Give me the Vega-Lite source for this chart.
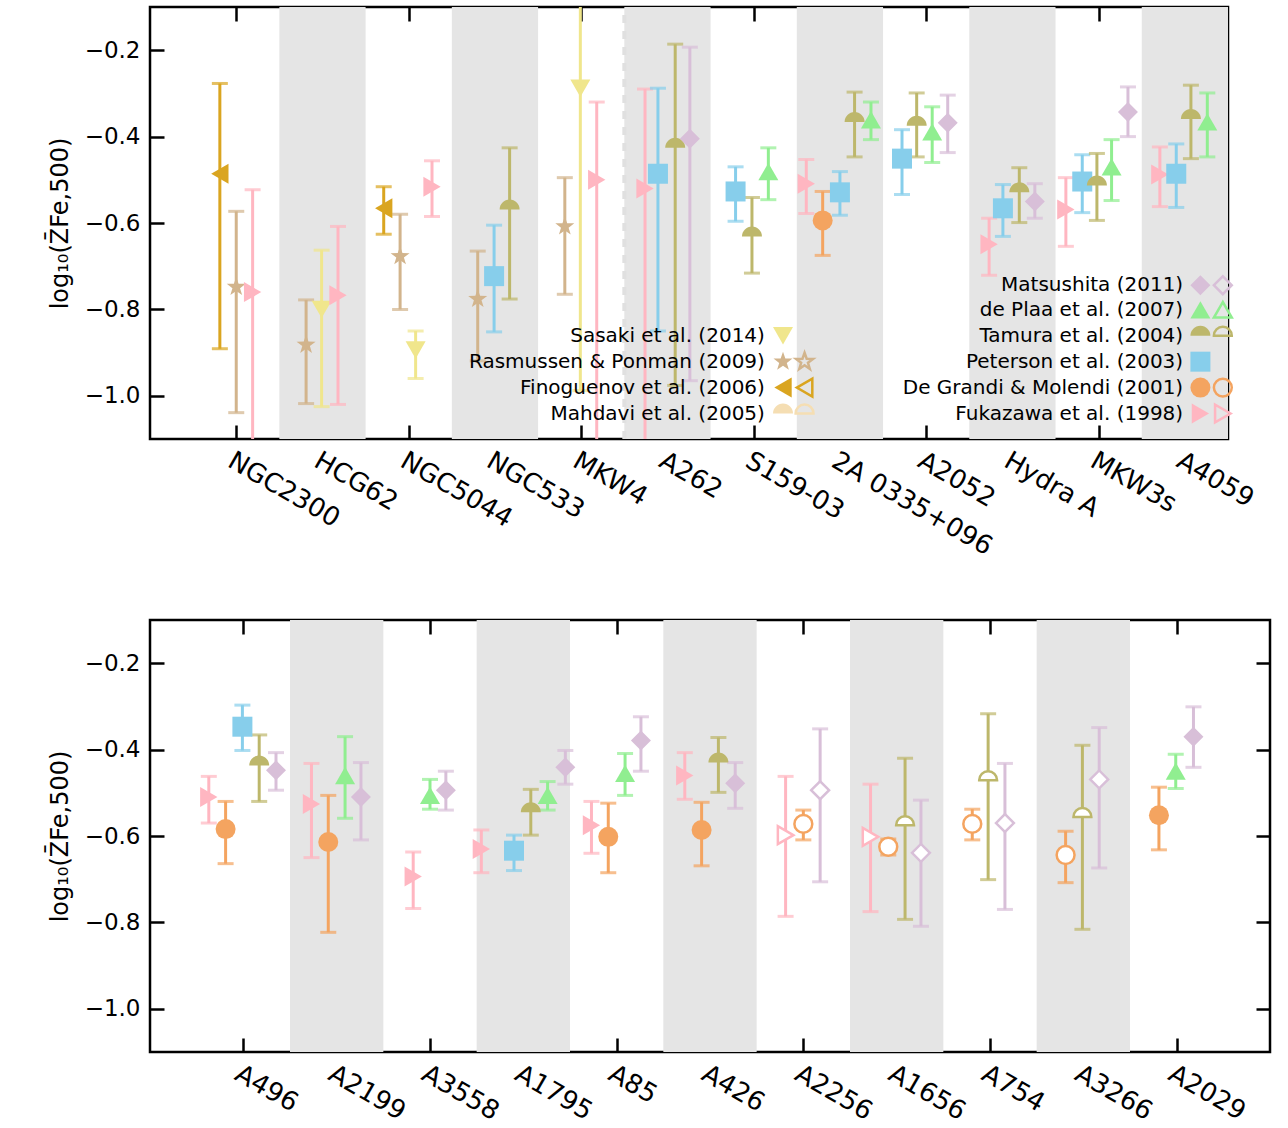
{
"$schema":"https://vega.github.io/schema/vega-lite/v6.json",
"padding":{"left":46,"top":3,"right":5,"bottom":0},
"config":{"view":{"stroke":"black","strokeWidth":2.5},"font":"DejaVu Sans","axis":{"labelFont":"DejaVu Sans","titleFont":"DejaVu Sans","labelColor":"black","titleColor":"black","labelOverlap":false,"labelLimit":0,"titleFontWeight":"normal"}},
"spacing":56,
"datasets":{
"top":[
{"s":"Finoguenov","x":0.31,"y":-0.486,"lo":-0.891,"hi":-0.277,"o":false},
{"s":"Rasmussen","x":0.50,"y":-0.748,"lo":-1.039,"hi":-0.573,"o":false},
{"s":"Fukazawa","x":0.69,"y":-0.76,"lo":-1.3,"hi":-0.523,"o":false},
{"s":"Rasmussen","x":1.31,"y":-0.882,"lo":-1.018,"hi":-0.778,"o":false},
{"s":"Sasaki","x":1.49,"y":-0.80,"lo":-1.025,"hi":-0.663,"o":false},
{"s":"Fukazawa","x":1.68,"y":-0.767,"lo":-1.02,"hi":-0.608,"o":false},
{"s":"Finoguenov","x":2.21,"y":-0.566,"lo":-0.626,"hi":-0.516,"o":false},
{"s":"Rasmussen","x":2.40,"y":-0.677,"lo":-0.80,"hi":-0.58,"o":false},
{"s":"Sasaki","x":2.58,"y":-0.894,"lo":-0.96,"hi":-0.85,"o":false},
{"s":"Fukazawa","x":2.77,"y":-0.516,"lo":-0.585,"hi":-0.456,"o":false},
{"s":"Rasmussen","x":3.30,"y":-0.776,"lo":-0.919,"hi":-0.665,"o":false},
{"s":"Peterson","x":3.49,"y":-0.723,"lo":-0.852,"hi":-0.605,"o":false},
{"s":"Tamura","x":3.67,"y":-0.569,"lo":-0.776,"hi":-0.426,"o":false},
{"s":"Rasmussen","x":4.31,"y":-0.608,"lo":-0.765,"hi":-0.495,"o":false},
{"s":"Sasaki","x":4.49,"y":-0.288,"lo":-0.988,"hi":0.0,"o":false},
{"s":"Fukazawa","x":4.68,"y":-0.50,"lo":-1.3,"hi":-0.32,"o":false},
{"s":"Fukazawa","x":5.24,"y":-0.52,"lo":-1.3,"hi":-0.29,"o":false},
{"s":"Peterson","x":5.39,"y":-0.486,"lo":-0.85,"hi":-0.288,"o":false},
{"s":"Tamura","x":5.59,"y":-0.426,"lo":-0.976,"hi":-0.186,"o":false},
{"s":"Matsushita","x":5.76,"y":-0.405,"lo":-0.965,"hi":-0.193,"o":false},
{"s":"Peterson","x":6.29,"y":-0.527,"lo":-0.596,"hi":-0.47,"o":false},
{"s":"Tamura","x":6.48,"y":-0.631,"lo":-0.716,"hi":-0.541,"o":false},
{"s":"dePlaa","x":6.67,"y":-0.481,"lo":-0.546,"hi":-0.426,"o":false},
{"s":"Fukazawa","x":7.11,"y":-0.509,"lo":-0.578,"hi":-0.453,"o":false},
{"s":"DeGrandi","x":7.30,"y":-0.594,"lo":-0.675,"hi":-0.527,"o":false},
{"s":"Peterson","x":7.50,"y":-0.529,"lo":-0.582,"hi":-0.481,"o":false},
{"s":"Tamura","x":7.67,"y":-0.366,"lo":-0.447,"hi":-0.297,"o":false},
{"s":"dePlaa","x":7.86,"y":-0.361,"lo":-0.407,"hi":-0.32,"o":false},
{"s":"Peterson","x":8.22,"y":-0.451,"lo":-0.534,"hi":-0.384,"o":false},
{"s":"Tamura","x":8.39,"y":-0.375,"lo":-0.447,"hi":-0.299,"o":false},
{"s":"dePlaa","x":8.57,"y":-0.389,"lo":-0.46,"hi":-0.331,"o":false},
{"s":"Matsushita","x":8.75,"y":-0.368,"lo":-0.437,"hi":-0.304,"o":false},
{"s":"Fukazawa","x":9.23,"y":-0.649,"lo":-0.721,"hi":-0.589,"o":false},
{"s":"Peterson","x":9.39,"y":-0.566,"lo":-0.631,"hi":-0.511,"o":false},
{"s":"Tamura","x":9.58,"y":-0.529,"lo":-0.599,"hi":-0.472,"o":false},
{"s":"Matsushita","x":9.76,"y":-0.55,"lo":-0.589,"hi":-0.509,"o":false},
{"s":"Fukazawa","x":10.12,"y":-0.569,"lo":-0.654,"hi":-0.495,"o":false},
{"s":"Peterson","x":10.31,"y":-0.504,"lo":-0.576,"hi":-0.442,"o":false},
{"s":"Tamura","x":10.48,"y":-0.513,"lo":-0.594,"hi":-0.439,"o":false},
{"s":"dePlaa","x":10.65,"y":-0.47,"lo":-0.548,"hi":-0.407,"o":false},
{"s":"Matsushita","x":10.84,"y":-0.343,"lo":-0.40,"hi":-0.285,"o":false},
{"s":"Fukazawa","x":11.21,"y":-0.488,"lo":-0.562,"hi":-0.424,"o":false},
{"s":"Peterson","x":11.40,"y":-0.486,"lo":-0.564,"hi":-0.417,"o":false},
{"s":"Tamura","x":11.57,"y":-0.359,"lo":-0.451,"hi":-0.281,"o":false},
{"s":"dePlaa","x":11.76,"y":-0.366,"lo":-0.447,"hi":-0.299,"o":false}
],
"bot":[
{"s":"Fukazawa","x":0.13,"y":-0.51,"lo":-0.57,"hi":-0.462,"o":false},
{"s":"DeGrandi","x":0.31,"y":-0.584,"lo":-0.664,"hi":-0.52,"o":false},
{"s":"Peterson","x":0.49,"y":-0.347,"lo":-0.402,"hi":-0.297,"o":false},
{"s":"Tamura","x":0.67,"y":-0.437,"lo":-0.52,"hi":-0.366,"o":false},
{"s":"Matsushita","x":0.85,"y":-0.448,"lo":-0.494,"hi":-0.407,"o":false},
{"s":"Fukazawa","x":1.23,"y":-0.526,"lo":-0.65,"hi":-0.432,"o":false},
{"s":"DeGrandi","x":1.41,"y":-0.614,"lo":-0.823,"hi":-0.506,"o":false},
{"s":"dePlaa","x":1.59,"y":-0.46,"lo":-0.559,"hi":-0.37,"o":false},
{"s":"Matsushita","x":1.76,"y":-0.51,"lo":-0.609,"hi":-0.43,"o":false},
{"s":"Fukazawa","x":2.32,"y":-0.694,"lo":-0.768,"hi":-0.637,"o":false},
{"s":"dePlaa","x":2.50,"y":-0.506,"lo":-0.538,"hi":-0.469,"o":false},
{"s":"Matsushita","x":2.67,"y":-0.494,"lo":-0.54,"hi":-0.45,"o":false},
{"s":"Fukazawa","x":3.05,"y":-0.63,"lo":-0.685,"hi":-0.586,"o":false},
{"s":"Peterson","x":3.40,"y":-0.634,"lo":-0.68,"hi":-0.598,"o":false},
{"s":"Tamura","x":3.58,"y":-0.545,"lo":-0.598,"hi":-0.492,"o":false},
{"s":"dePlaa","x":3.76,"y":-0.506,"lo":-0.54,"hi":-0.474,"o":false},
{"s":"Matsushita","x":3.95,"y":-0.441,"lo":-0.48,"hi":-0.402,"o":false},
{"s":"Fukazawa","x":4.23,"y":-0.575,"lo":-0.64,"hi":-0.52,"o":false},
{"s":"DeGrandi","x":4.41,"y":-0.602,"lo":-0.685,"hi":-0.524,"o":false},
{"s":"dePlaa","x":4.59,"y":-0.455,"lo":-0.506,"hi":-0.409,"o":false},
{"s":"Matsushita","x":4.76,"y":-0.379,"lo":-0.45,"hi":-0.324,"o":false},
{"s":"Fukazawa","x":5.23,"y":-0.46,"lo":-0.515,"hi":-0.407,"o":false},
{"s":"DeGrandi","x":5.41,"y":-0.586,"lo":-0.669,"hi":-0.522,"o":false},
{"s":"Tamura","x":5.59,"y":-0.43,"lo":-0.499,"hi":-0.372,"o":false},
{"s":"Matsushita","x":5.77,"y":-0.478,"lo":-0.536,"hi":-0.43,"o":false},
{"s":"Fukazawa","x":6.31,"y":-0.598,"lo":-0.786,"hi":-0.462,"o":true},
{"s":"DeGrandi","x":6.50,"y":-0.572,"lo":-0.609,"hi":-0.54,"o":true},
{"s":"Matsushita","x":6.68,"y":-0.494,"lo":-0.706,"hi":-0.352,"o":true},
{"s":"Fukazawa","x":7.22,"y":-0.602,"lo":-0.775,"hi":-0.48,"o":true},
{"s":"DeGrandi","x":7.41,"y":-0.625,"lo":-0.644,"hi":-0.607,"o":true},
{"s":"Tamura","x":7.59,"y":-0.575,"lo":-0.793,"hi":-0.42,"o":true},
{"s":"Matsushita","x":7.76,"y":-0.639,"lo":-0.809,"hi":-0.517,"o":true},
{"s":"DeGrandi","x":8.31,"y":-0.572,"lo":-0.609,"hi":-0.538,"o":true},
{"s":"Tamura","x":8.48,"y":-0.471,"lo":-0.701,"hi":-0.317,"o":true},
{"s":"Matsushita","x":8.66,"y":-0.57,"lo":-0.77,"hi":-0.432,"o":true},
{"s":"DeGrandi","x":9.31,"y":-0.644,"lo":-0.708,"hi":-0.589,"o":true},
{"s":"Tamura","x":9.49,"y":-0.556,"lo":-0.816,"hi":-0.39,"o":true},
{"s":"Matsushita","x":9.67,"y":-0.469,"lo":-0.674,"hi":-0.349,"o":true},
{"s":"DeGrandi","x":10.31,"y":-0.552,"lo":-0.632,"hi":-0.487,"o":false},
{"s":"dePlaa","x":10.49,"y":-0.45,"lo":-0.49,"hi":-0.411,"o":false},
{"s":"Matsushita","x":10.68,"y":-0.37,"lo":-0.441,"hi":-0.301,"o":false}
],
"bandsTop":[{"a":1,"b":2},{"a":3,"b":4},{"a":5,"b":6},{"a":7,"b":8},{"a":9,"b":10},{"a":11,"b":12}],
"bandsBot":[{"a":1,"b":2},{"a":3,"b":4},{"a":5,"b":6},{"a":7,"b":8},{"a":9,"b":10}],
"legT":[
{"t":"Matsushita (2011)","x":11.48,"y":-0.744},
{"t":"de Plaa et al. (2007)","x":11.48,"y":-0.801},
{"t":"Tamura et al. (2004)","x":11.48,"y":-0.861},
{"t":"Peterson et al. (2003)","x":11.48,"y":-0.921},
{"t":"De Grandi & Molendi (2001)","x":11.48,"y":-0.981},
{"t":"Fukazawa et al. (1998)","x":11.48,"y":-1.041},
{"t":"Sasaki et al. (2014)","x":6.63,"y":-0.861},
{"t":"Rasmussen & Ponman (2009)","x":6.63,"y":-0.921},
{"t":"Finoguenov et al. (2006)","x":6.63,"y":-0.981},
{"t":"Mahdavi et al. (2005)","x":6.63,"y":-1.041}
],
"legS":[
{"s":"Matsushita","x":11.68,"y":-0.744,"o":false},{"s":"Matsushita","x":11.94,"y":-0.744,"o":true},
{"s":"dePlaa","x":11.68,"y":-0.801,"o":false},{"s":"dePlaa","x":11.94,"y":-0.801,"o":true},
{"s":"Tamura","x":11.68,"y":-0.861,"o":false},{"s":"Tamura","x":11.94,"y":-0.861,"o":true},
{"s":"Peterson","x":11.68,"y":-0.921,"o":false},
{"s":"DeGrandi","x":11.68,"y":-0.981,"o":false},{"s":"DeGrandi","x":11.94,"y":-0.981,"o":true},
{"s":"Fukazawa","x":11.68,"y":-1.041,"o":false},{"s":"Fukazawa","x":11.94,"y":-1.041,"o":true},
{"s":"Sasaki","x":6.84,"y":-0.861,"o":false},
{"s":"Rasmussen","x":6.84,"y":-0.921,"o":false},{"s":"Rasmussen","x":7.09,"y":-0.921,"o":true},
{"s":"Finoguenov","x":6.84,"y":-0.981,"o":false},{"s":"Finoguenov","x":7.09,"y":-0.981,"o":true},
{"s":"Mahdavi","x":6.84,"y":-1.041,"o":false},{"s":"Mahdavi","x":7.09,"y":-1.041,"o":true}
],
"dash":[{"x":5.0}]
},
"vconcat":[
{
"width":1078,"height":432,
"resolve":{"axis":{"x":"independent","y":"independent"}},
"layer":[
{"data":{"name":"bandsTop"},"mark":{"type":"rect","color":"#e5e5e5"},
 "encoding":{
  "x":{"field":"a","type":"quantitative","scale":{"domain":[-0.5,12],"nice":false,"zero":false},
   "axis":{"orient":"bottom","values":[0.5,1.5,2.5,3.5,4.5,5.5,6.5,7.5,8.5,9.5,10.5,11.5],"labelExpr":"['NGC2300','HCG62','NGC5044','NGC533','MKW4','A262','S159-03','2A 0335+096','A2052','Hydra A','MKW3s','A4059'][floor(datum.value)]","labelAngle":30,"labelAlign":"left","labelBaseline":"top","labelFontSize":26,"tickSize":-14,"tickWidth":2.5,"tickColor":"black","labelPadding":22,"domain":false,"grid":false,"title":null}},
  "x2":{"field":"b"},
  "y":{"datum":-1.1,"type":"quantitative","scale":{"domain":[-1.1,-0.1],"nice":false,"zero":false},
   "axis":{"orient":"left","values":[-1.0,-0.8,-0.6,-0.4,-0.2],"format":".1f","labelExpr":"replace(datum.label,'-','−')","labelFontSize":23,"tickSize":-14,"tickWidth":2.5,"tickColor":"black","labelPadding":24,"domain":false,"grid":false,"title":"log₁₀(Z̄Fe,500)","titleFontSize":24,"titlePadding":12}},
  "y2":{"datum":-0.1}}},
{"data":{"name":"dash"},"mark":{"type":"rule","color":"#e0e0e0","strokeWidth":4,"strokeDash":[8,8]},
 "encoding":{"x":{"field":"x","type":"quantitative","axis":{"orient":"top","values":[0.5,1.5,2.5,3.5,4.5,5.5,6.5,7.5,8.5,9.5,10.5,11.5],"labels":false,"tickSize":-14,"tickWidth":2.5,"tickColor":"black","domain":false,"grid":false,"title":null}},
  "y":{"datum":-1.1,"type":"quantitative","axis":{"orient":"right","values":[-1.0,-0.8,-0.6,-0.4,-0.2],"labels":false,"tickSize":-14,"tickWidth":2.5,"tickColor":"black","domain":false,"grid":false,"title":null}},"y2":{"datum":-0.1}}},
{"data":{"name":"top"},"mark":{"type":"rule","strokeWidth":3,"clip":true},
 "encoding":{"x":{"field":"x","type":"quantitative","axis":null},"y":{"field":"lo","type":"quantitative","axis":null},"y2":{"field":"hi"},
  "color":{"field":"s","type":"nominal","legend":null,"scale":{"domain":["Fukazawa","DeGrandi","Peterson","Tamura","dePlaa","Matsushita","Sasaki","Rasmussen","Finoguenov","Mahdavi"],"range":["#FFB6C1","#F4A460","#87CEEB","#BDB76B","#90EE90","#D8BFD8","#F0E68C","#D2B48C","#DAA520","#F5DEB3"]}}}},
{"data":{"name":"top"},"mark":{"type":"tick","orient":"horizontal","size":16,"thickness":3,"clip":true},
 "encoding":{"x":{"field":"x","type":"quantitative","axis":null},"y":{"field":"lo","type":"quantitative","axis":null},"color":{"field":"s","type":"nominal","legend":null}}},
{"data":{"name":"top"},"mark":{"type":"tick","orient":"horizontal","size":16,"thickness":3,"clip":true},
 "encoding":{"x":{"field":"x","type":"quantitative","axis":null},"y":{"field":"hi","type":"quantitative","axis":null},"color":{"field":"s","type":"nominal","legend":null}}},
{"data":{"name":"top"},"mark":{"type":"point","filled":true,"opacity":1,"size":400},
 "encoding":{"x":{"field":"x","type":"quantitative","axis":null},"y":{"field":"y","type":"quantitative","axis":null},"color":{"field":"s","type":"nominal","legend":null},
  "shape":{"field":"s","type":"nominal","legend":null,"scale":{"domain":["Fukazawa","DeGrandi","Peterson","Tamura","dePlaa","Matsushita","Sasaki","Rasmussen","Finoguenov","Mahdavi"],"range":["triangle-right","circle","square","M-1,0A1,1 0 0 1 1,0Z","triangle-up","diamond","triangle-down","M0,-1L0.235,-0.324L0.951,-0.309L0.38,0.124L0.588,0.809L0,0.4L-0.588,0.809L-0.38,0.124L-0.951,-0.309L-0.235,-0.324Z","triangle-left","M-1,0A1,1 0 0 1 1,0Z"]}}}},
{"data":{"name":"legT"},"mark":{"type":"text","align":"right","baseline":"middle","fontSize":20,"color":"black"},
 "encoding":{"x":{"field":"x","type":"quantitative","axis":null},"y":{"field":"y","type":"quantitative","axis":null},"text":{"field":"t"}}},
{"data":{"name":"legS"},"transform":[{"filter":"!datum.o"}],"mark":{"type":"point","filled":true,"opacity":1,"size":400},
 "encoding":{"x":{"field":"x","type":"quantitative","axis":null},"y":{"field":"y","type":"quantitative","axis":null},"color":{"field":"s","type":"nominal","legend":null},"shape":{"field":"s","type":"nominal","legend":null}}},
{"data":{"name":"legS"},"transform":[{"filter":"datum.o"}],"mark":{"type":"point","filled":false,"opacity":1,"size":320,"strokeWidth":2.5},
 "encoding":{"x":{"field":"x","type":"quantitative","axis":null},"y":{"field":"y","type":"quantitative","axis":null},"color":{"field":"s","type":"nominal","legend":null},"shape":{"field":"s","type":"nominal","legend":null}}}
]},
{
"width":1120,"height":432,
"resolve":{"axis":{"x":"independent","y":"independent"}},
"layer":[
{"data":{"name":"bandsBot"},"mark":{"type":"rect","color":"#e5e5e5"},
 "encoding":{
  "x":{"field":"a","type":"quantitative","scale":{"domain":[-0.5,11.5],"nice":false,"zero":false},
   "axis":{"orient":"bottom","values":[0.5,1.5,2.5,3.5,4.5,5.5,6.5,7.5,8.5,9.5,10.5],"labelExpr":"['A496','A2199','A3558','A1795','A85','A426','A2256','A1656','A754','A3266','A2029'][floor(datum.value)]","labelAngle":30,"labelAlign":"left","labelBaseline":"top","labelFontSize":26,"tickSize":-14,"tickWidth":2.5,"tickColor":"black","labelPadding":22,"domain":false,"grid":false,"title":null}},
  "x2":{"field":"b"},
  "y":{"datum":-1.1,"type":"quantitative","scale":{"domain":[-1.1,-0.1],"nice":false,"zero":false},
   "axis":{"orient":"left","values":[-1.0,-0.8,-0.6,-0.4,-0.2],"format":".1f","labelExpr":"replace(datum.label,'-','−')","labelFontSize":23,"tickSize":-14,"tickWidth":2.5,"tickColor":"black","labelPadding":24,"domain":false,"grid":false,"title":"log₁₀(Z̄Fe,500)","titleFontSize":24,"titlePadding":12}},
  "y2":{"datum":-0.1}}},
{"data":{"name":"bandsBot"},"mark":{"type":"rule","opacity":0},
 "encoding":{"x":{"field":"a","type":"quantitative","axis":{"orient":"top","values":[0.5,1.5,2.5,3.5,4.5,5.5,6.5,7.5,8.5,9.5,10.5],"labels":false,"tickSize":-14,"tickWidth":2.5,"tickColor":"black","domain":false,"grid":false,"title":null}},
  "y":{"datum":-1.1,"type":"quantitative","axis":{"orient":"right","values":[-1.0,-0.8,-0.6,-0.4,-0.2],"labels":false,"tickSize":-14,"tickWidth":2.5,"tickColor":"black","domain":false,"grid":false,"title":null}},"y2":{"datum":-0.1}}},
{"data":{"name":"bot"},"mark":{"type":"rule","strokeWidth":3,"clip":true},
 "encoding":{"x":{"field":"x","type":"quantitative","axis":null},"y":{"field":"lo","type":"quantitative","axis":null},"y2":{"field":"hi"},
  "color":{"field":"s","type":"nominal","legend":null,"scale":{"domain":["Fukazawa","DeGrandi","Peterson","Tamura","dePlaa","Matsushita","Sasaki","Rasmussen","Finoguenov","Mahdavi"],"range":["#FFB6C1","#F4A460","#87CEEB","#BDB76B","#90EE90","#D8BFD8","#F0E68C","#D2B48C","#DAA520","#F5DEB3"]}}}},
{"data":{"name":"bot"},"mark":{"type":"tick","orient":"horizontal","size":16,"thickness":3,"clip":true},
 "encoding":{"x":{"field":"x","type":"quantitative","axis":null},"y":{"field":"lo","type":"quantitative","axis":null},"color":{"field":"s","type":"nominal","legend":null}}},
{"data":{"name":"bot"},"mark":{"type":"tick","orient":"horizontal","size":16,"thickness":3,"clip":true},
 "encoding":{"x":{"field":"x","type":"quantitative","axis":null},"y":{"field":"hi","type":"quantitative","axis":null},"color":{"field":"s","type":"nominal","legend":null}}},
{"data":{"name":"bot"},"transform":[{"filter":"!datum.o"}],"mark":{"type":"point","filled":true,"opacity":1,"size":400},
 "encoding":{"x":{"field":"x","type":"quantitative","axis":null},"y":{"field":"y","type":"quantitative","axis":null},"color":{"field":"s","type":"nominal","legend":null},
  "shape":{"field":"s","type":"nominal","legend":null,"scale":{"domain":["Fukazawa","DeGrandi","Peterson","Tamura","dePlaa","Matsushita","Sasaki","Rasmussen","Finoguenov","Mahdavi"],"range":["triangle-right","circle","square","M-1,0A1,1 0 0 1 1,0Z","triangle-up","diamond","triangle-down","M0,-1L0.235,-0.324L0.951,-0.309L0.38,0.124L0.588,0.809L0,0.4L-0.588,0.809L-0.38,0.124L-0.951,-0.309L-0.235,-0.324Z","triangle-left","M-1,0A1,1 0 0 1 1,0Z"]}}}},
{"data":{"name":"bot"},"transform":[{"filter":"datum.o"}],"mark":{"type":"point","filled":false,"fill":"white","opacity":1,"size":320,"strokeWidth":2.5},
 "encoding":{"x":{"field":"x","type":"quantitative","axis":null},"y":{"field":"y","type":"quantitative","axis":null},"color":{"field":"s","type":"nominal","legend":null},"shape":{"field":"s","type":"nominal","legend":null}}}
]}
]}
